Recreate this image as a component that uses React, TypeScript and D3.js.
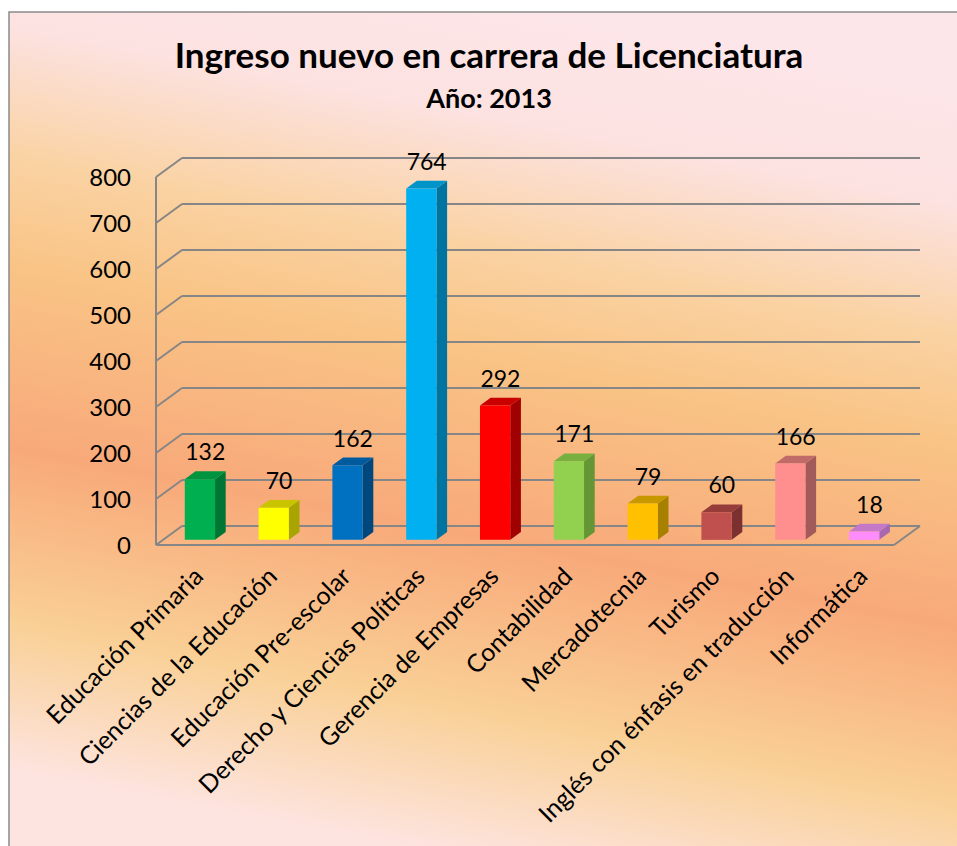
import React from "react";
import * as d3 from "d3";

const categories = [
  "Educación Primaria",
  "Ciencias de la Educación",
  "Educación Pre-escolar",
  "Derecho y Ciencias Políticas",
  "Gerencia de Empresas",
  "Contabilidad",
  "Mercadotecnia",
  "Turismo",
  "Inglés con énfasis en traducción",
  "Informática",
];
const values = [132, 70, 162, 764, 292, 171, 79, 60, 166, 18];
const yTicks = [0, 100, 200, 300, 400, 500, 600, 700, 800];

const frontColors = ["#00b050", "#ffff00", "#0070c0", "#00b0f0", "#ff0000", "#92d050", "#ffc000", "#c0504d", "#ff8f8f", "#ff8cff"];
const topColors = ["#00943f", "#c8c400", "#005a9e", "#0094c8", "#c80000", "#78b040", "#c89800", "#963c3a", "#c06a6a", "#c478c8"];
const sideColors = ["#007634", "#a8a400", "#00477e", "#0074a0", "#a00000", "#649634", "#a88000", "#7c302f", "#a25a5a", "#a868b0"];

const W = 957;
const H = 846;
const DX = 26; // depth offset of the 3D box
const DY = 19;
const font = "Lato, 'Open Sans', sans-serif";

const App = () => {
  const x = d3.scaleBand().domain(categories).range([156, 894]).padding(0);
  const y = d3.scaleLinear().domain([0, 800]).range([545, 177]);
  const band = x.bandwidth();
  const bw = band * 0.41;
  const z0 = 0.27;
  const z1 = 0.68;
  const dx = (z1 - z0) * DX;
  const dy = (z1 - z0) * DY;

  const [r0, r1] = x.range();
  const grid = "#868686";

  return (
    <svg width={W} height={H} style={{ position: "absolute", left: 0, top: 0 }}>
      <defs>
        <linearGradient id="bg" gradientUnits="userSpaceOnUse" x1={560} y1={0} x2={400} y2={846}>
          <stop offset="0" stopColor="#fde6ea" />
          <stop offset="0.15" stopColor="#fce2e0" />
          <stop offset="0.3" stopColor="#fad2a2" />
          <stop offset="0.42" stopColor="#f9c486" />
          <stop offset="0.63" stopColor="#f8a97a" />
          <stop offset="0.83" stopColor="#f9d096" />
          <stop offset="1" stopColor="#fde4e0" />
        </linearGradient>
      </defs>
      <rect x={0} y={0} width={W} height={H} fill="#ffffff" />
      <rect x={9} y={12} width={W + 10} height={H} fill="url(#bg)" stroke="#8a8a8a" strokeWidth={1.5} />

      <text x={489} y={68} textAnchor="middle" fontFamily={font} fontWeight="bold" fontSize={35} fill="#000">
        Ingreso nuevo en carrera de Licenciatura
      </text>
      <text x={489} y={108} textAnchor="middle" fontFamily={font} fontWeight="bold" fontSize={27} fill="#000">
        Año: 2013
      </text>

      {/* back wall grid lines and left wall */}
      <g stroke={grid} strokeWidth={2} fill="none">
        {yTicks.map((t) => (
          <g key={t}>
            <line x1={r0 + DX} x2={r1 + DX} y1={y(t) - DY} y2={y(t) - DY} />
            <line x1={r0} x2={r0 + DX} y1={y(t)} y2={y(t) - DY} />
          </g>
        ))}
        <line x1={r0} x2={r0} y1={y(0)} y2={y(800)} />
        <line x1={r0} x2={r1} y1={y(0)} y2={y(0)} />
        <line x1={r1} x2={r1 + DX} y1={y(0)} y2={y(0) - DY} />
      </g>

      {/* y tick labels */}
      {yTicks.map((t) => (
        <text key={t} x={131} y={y(t)} dy="0.36em" textAnchor="end" fontFamily={font} fontSize={24} fill="#000">
          {t}
        </text>
      ))}

      {/* bars */}
      {categories.map((c, i) => {
        const bx = (x(c) as number) + band / 2 - bw / 2 + z0 * DX;
        const yb = y(0) - z0 * DY;
        const yt = y(values[i]) - z0 * DY;
        const front = `M${bx},${yt}L${bx + bw},${yt}L${bx + bw},${yb}L${bx},${yb}Z`;
        const top = `M${bx},${yt}L${bx + dx},${yt - dy}L${bx + bw + dx},${yt - dy}L${bx + bw},${yt}Z`;
        const side = `M${bx + bw},${yt}L${bx + bw + dx},${yt - dy}L${bx + bw + dx},${yb - dy}L${bx + bw},${yb}Z`;
        return (
          <g key={c}>
            <path d={side} fill={sideColors[i]} />
            <path d={top} fill={topColors[i]} />
            <path d={front} fill={frontColors[i]} />
            <text
              x={bx + bw / 2 + dx / 2}
              y={yt - dy - 11}
              textAnchor="middle"
              fontFamily={font}
              fontSize={23}
              fill="#000"
            >
              {values[i]}
            </text>
          </g>
        );
      })}

      {/* category labels */}
      {categories.map((c) => {
        const cx = (x(c) as number) + band / 2 + 12;
        const cy = 578;
        return (
          <text
            key={c}
            transform={`translate(${cx},${cy}) rotate(-45)`}
            textAnchor="end"
            fontFamily={font}
            fontSize={25}
            fill="#000"
          >
            {c}
          </text>
        );
      })}
    </svg>
  );
};

export default App;
